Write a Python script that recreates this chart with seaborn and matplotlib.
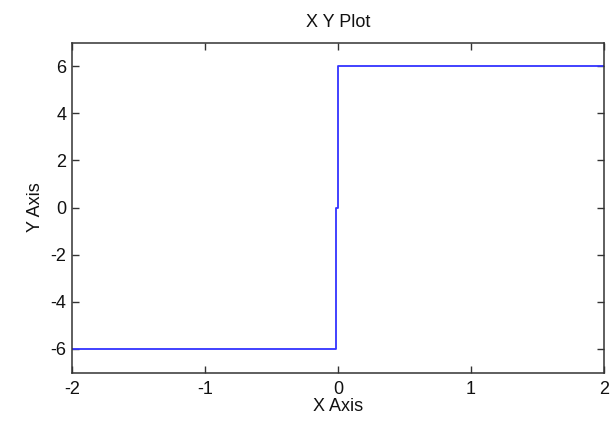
import matplotlib
matplotlib.use("Agg")
import matplotlib.pyplot as plt
import seaborn as sns
import pandas as pd

x_vals = [-2.0, -0.015, -0.015, 0.0, 0.0, 2.0]
y_vals = [-6.0, -6.0, 0.0, 0.0, 6.0, 6.0]
x_ticks = [-2, -1, 0, 1, 2]
y_ticks = [-6, -4, -2, 0, 2, 4, 6]

sns.set_style("white")
plt.rcParams['font.family'] = ['Liberation Sans', 'DejaVu Sans']

FS = 13
TXT = "#111111"

df = pd.DataFrame({"x": x_vals, "y": y_vals})
fig = plt.figure(figsize=(6.11, 4.22), dpi=100)
ax = fig.add_axes([72/611, 1-372.5/422, (604-72)/611, (372.5-42.5)/422])
sns.lineplot(data=df, x="x", y="y", ax=ax, sort=False, estimator=None,
             color="#3333ff", linewidth=1.3)
ax.set_xlim(-2, 2)
ax.set_ylim(-7, 7)
ax.set_xticks(x_ticks)
ax.set_yticks(y_ticks)
ax.set_xticklabels([str(t) for t in x_ticks], fontsize=FS)
ax.set_yticklabels([str(t) for t in y_ticks], fontsize=FS)
ax.tick_params(direction="in", length=5, width=1, top=True, right=True,
               bottom=True, left=True, colors="#333333", labelcolor=TXT)
ax.tick_params(axis="x", pad=6)
ax.tick_params(axis="y", pad=4)
for s in ax.spines.values():
    s.set_color("#333333")
    s.set_linewidth(1.1)
ax.set_xlabel("X Axis", fontsize=FS, color=TXT, labelpad=0)
ax.set_ylabel("Y Axis", fontsize=FS, color=TXT, labelpad=5)
ax.set_title("X Y Plot", fontsize=FS, color=TXT, pad=11)
fig.savefig("out.png", dpi=100)
